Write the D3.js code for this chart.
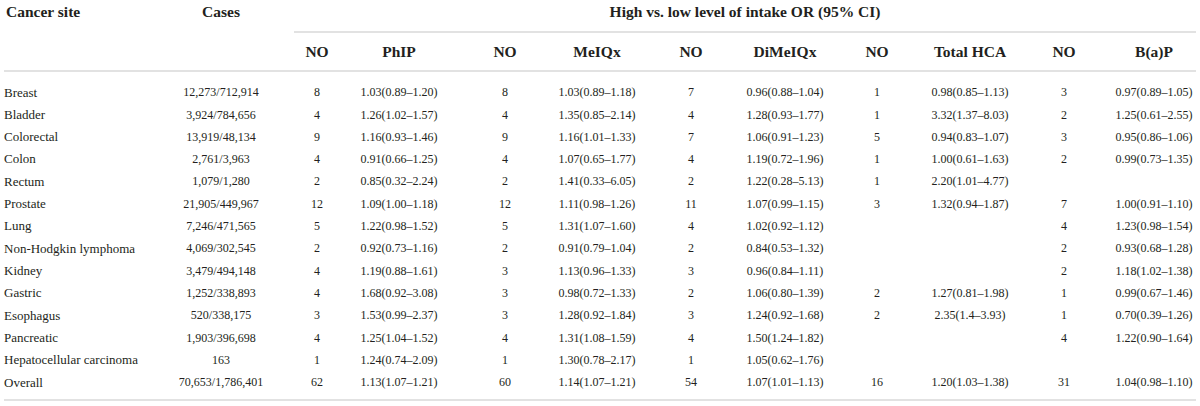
<!DOCTYPE html>
<html>
<head>
<meta charset="utf-8">
<script src="https://cdn.jsdelivr.net/npm/d3@7"></script>
<style>
  body { margin: 0; background: #fff; }
</style>
</head>
<body>
<div id="table"></div>
<script>
var sites = ["Breast", "Bladder", "Colorectal", "Colon", "Rectum", "Prostate", "Lung",
  "Non-Hodgkin lymphoma", "Kidney", "Gastric", "Esophagus", "Pancreatic",
  "Hepatocellular carcinoma", "Overall"];
var cases = ["12,273/712,914", "3,924/784,656", "13,919/48,134", "2,761/3,963", "1,079/1,280",
  "21,905/449,967", "7,246/471,565", "4,069/302,545", "3,479/494,148", "1,252/338,893",
  "520/338,175", "1,903/396,698", "163", "70,653/1,786,401"];

var phipNo = [8, 4, 9, 4, 2, 12, 5, 2, 4, 4, 3, 4, 1, 62];
var phipOr = ["1.03(0.89–1.20)", "1.26(1.02–1.57)", "1.16(0.93–1.46)", "0.91(0.66–1.25)",
  "0.85(0.32–2.24)", "1.09(1.00–1.18)", "1.22(0.98–1.52)", "0.92(0.73–1.16)",
  "1.19(0.88–1.61)", "1.68(0.92–3.08)", "1.53(0.99–2.37)", "1.25(1.04–1.52)",
  "1.24(0.74–2.09)", "1.13(1.07–1.21)"];
var meiqxNo = [8, 4, 9, 4, 2, 12, 5, 2, 3, 3, 3, 4, 1, 60];
var meiqxOr = ["1.03(0.89–1.18)", "1.35(0.85–2.14)", "1.16(1.01–1.33)", "1.07(0.65–1.77)",
  "1.41(0.33–6.05)", "1.11(0.98–1.26)", "1.31(1.07–1.60)", "0.91(0.79–1.04)",
  "1.13(0.96–1.33)", "0.98(0.72–1.33)", "1.28(0.92–1.84)", "1.31(1.08–1.59)",
  "1.30(0.78–2.17)", "1.14(1.07–1.21)"];
var dimeiqxNo = [7, 4, 7, 4, 2, 11, 4, 2, 3, 2, 3, 4, 1, 54];
var dimeiqxOr = ["0.96(0.88–1.04)", "1.28(0.93–1.77)", "1.06(0.91–1.23)", "1.19(0.72–1.96)",
  "1.22(0.28–5.13)", "1.07(0.99–1.15)", "1.02(0.92–1.12)", "0.84(0.53–1.32)",
  "0.96(0.84–1.11)", "1.06(0.80–1.39)", "1.24(0.92–1.68)", "1.50(1.24–1.82)",
  "1.05(0.62–1.76)", "1.07(1.01–1.13)"];
var hcaNo = [1, 1, 5, 1, 1, 3, null, null, null, 2, 2, null, null, 16];
var hcaOr = ["0.98(0.85–1.13)", "3.32(1.37–8.03)", "0.94(0.83–1.07)", "1.00(0.61–1.63)",
  "2.20(1.01–4.77)", "1.32(0.94–1.87)", null, null, null, "1.27(0.81–1.98)",
  "2.35(1.4–3.93)", null, null, "1.20(1.03–1.38)"];
var bapNo = [3, 2, 3, 2, null, 7, 4, 2, 2, 1, 1, 4, null, 31];
var bapOr = ["0.97(0.89–1.05)", "1.25(0.61–2.55)", "0.95(0.86–1.06)", "0.99(0.73–1.35)",
  null, "1.00(0.91–1.10)", "1.23(0.98–1.54)", "0.93(0.68–1.28)", "1.18(1.02–1.38)",
  "0.99(0.67–1.46)", "0.70(0.39–1.26)", "1.22(0.90–1.64)", null, "1.04(0.98–1.10)"];

var subHeads = ["NO", "PhIP", "NO", "MeIQx", "NO", "DiMeIQx", "NO", "Total HCA", "NO", "B(a)P"];
var groupHead = "High vs. low level of intake OR (95% CI)";

var serif = "'Liberation Serif', 'Times New Roman', serif";
var ink = "#231f20";

var width = 1200, height = 406;
var svg = d3.select("#table").append("svg")
  .attr("width", width)
  .attr("height", height)
  .attr("font-family", serif);

// columns after "Cancer site", keyed by index
var colKeys = ["cases", "no1", "phip", "no2", "meiqx", "no3", "dimeiqx", "no4", "hca", "no5", "bap"];
var x = d3.scaleOrdinal()
  .domain(colKeys)
  .range([221, 317, 399, 505, 597, 691, 785, 877, 970, 1064, 1154]);

var y = d3.scalePoint()
  .domain(sites)
  .range([92, 382]);

var columns = [cases, phipNo, phipOr, meiqxNo, meiqxOr, dimeiqxNo, dimeiqxOr, hcaNo, hcaOr, bapNo, bapOr];

// rules
var rules = [
  {x1: 294, x2: 1196, y: 32},
  {x1: 4, x2: 1196, y: 71},
  {x1: 4, x2: 1196, y: 400}
];
svg.selectAll(".rule")
  .data(rules)
  .enter()
  .append("line")
  .attr("class", "rule")
  .attr("x1", function(d) { return d.x1; })
  .attr("x2", function(d) { return d.x2; })
  .attr("y1", function(d) { return d.y; })
  .attr("y2", function(d) { return d.y; })
  .attr("stroke", "#d9d9d9")
  .attr("stroke-width", 1.6);

function head(sel) {
  return sel.attr("font-family", serif)
    .attr("font-weight", "bold")
    .attr("font-size", 15.5)
    .attr("fill", ink);
}

// headers
head(svg.append("text"))
  .attr("x", 6).attr("y", 17)
  .text("Cancer site");
head(svg.append("text"))
  .attr("x", x("cases")).attr("y", 17)
  .attr("text-anchor", "middle")
  .text("Cases");
head(svg.append("text"))
  .attr("x", 745).attr("y", 17)
  .attr("text-anchor", "middle")
  .text(groupHead);
head(svg.selectAll(".sub")
  .data(subHeads)
  .enter()
  .append("text")
  .attr("class", "sub"))
  .attr("x", function(d, i) { return x(colKeys[i + 1]); })
  .attr("y", 57)
  .attr("text-anchor", "middle")
  .text(function(d) { return d; });

// body
var rows = svg.selectAll(".row")
  .data(sites)
  .enter()
  .append("g")
  .attr("class", "row")
  .attr("transform", function(d) { return "translate(0," + y(d) + ")"; });

rows.append("text")
  .attr("font-family", serif)
  .attr("font-size", 13)
  .attr("fill", ink)
  .attr("x", 4)
  .attr("dy", "0.35em")
  .text(function(d) { return d; });

columns.forEach(function(col, c) {
  rows.append("text")
    .attr("font-family", serif)
    .attr("font-size", 12)
    .attr("fill", ink)
    .attr("x", x(colKeys[c]))
    .attr("dy", "0.35em")
    .attr("text-anchor", "middle")
    .text(function(d, i) { return col[i] == null ? "" : col[i]; });
});
</script>
</body>
</html>
